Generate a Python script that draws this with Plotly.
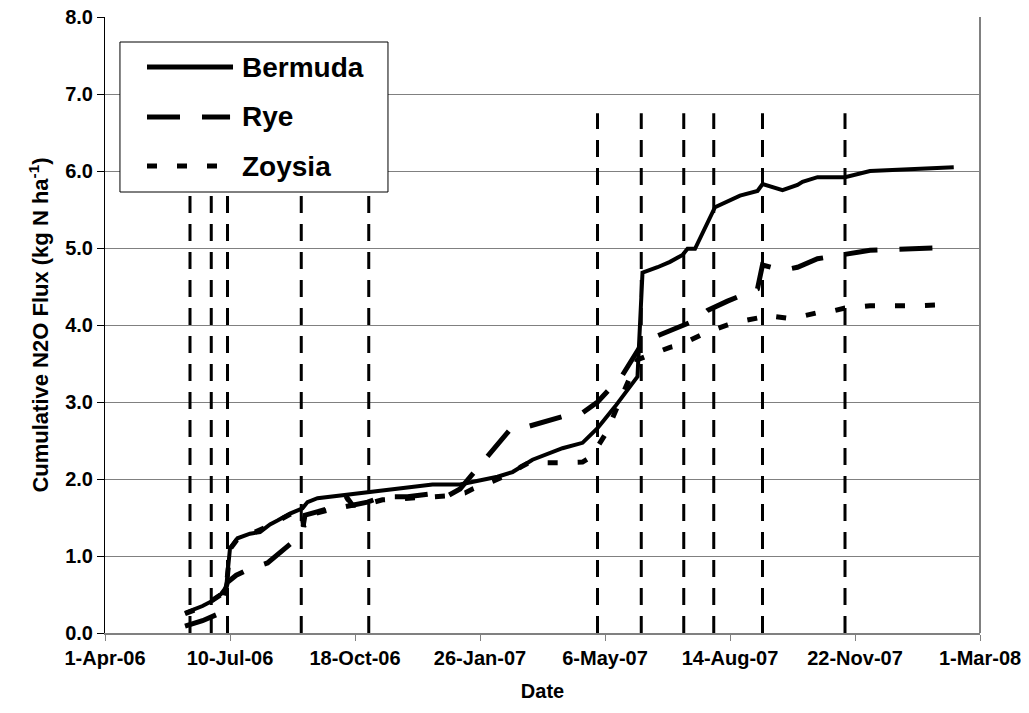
import plotly.graph_objects as go

# cumulative N2O flux (kg N/ha)
bermuda_dates = [
    "2006-06-04", "2006-06-18", "2006-06-25", "2006-07-03", "2006-07-07", "2006-07-10",
    "2006-07-16", "2006-07-26", "2006-08-03", "2006-08-11", "2006-08-17", "2006-08-27",
    "2006-09-06", "2006-09-10", "2006-09-18", "2006-10-04", "2006-10-24", "2006-11-17",
    "2006-12-19", "2007-01-10", "2007-02-09", "2007-02-21", "2007-03-09", "2007-04-02",
    "2007-04-18", "2007-04-30", "2007-05-14", "2007-06-01", "2007-06-05", "2007-06-17",
    "2007-06-27", "2007-07-07", "2007-07-11", "2007-07-17", "2007-08-02", "2007-08-22",
    "2007-09-05", "2007-09-09", "2007-09-25", "2007-10-07", "2007-10-11", "2007-10-23",
    "2007-11-14", "2007-12-04", "2008-02-09",
]
bermuda = [
    0.26, 0.35, 0.41, 0.51, 0.60, 1.10,
    1.23, 1.29, 1.31, 1.41, 1.46, 1.55,
    1.62, 1.70, 1.75, 1.78, 1.82, 1.87,
    1.93, 1.93, 2.03, 2.09, 2.25, 2.40,
    2.47, 2.66, 2.94, 3.33, 4.68, 4.75,
    4.82, 4.91, 4.99, 4.99, 5.53, 5.68,
    5.74, 5.83, 5.75, 5.82, 5.86, 5.92,
    5.92, 6.00, 6.05,
]

rye_dates = [
    "2006-06-04", "2006-06-18", "2006-07-01", "2006-07-08", "2006-07-15", "2006-07-24",
    "2006-08-09", "2006-08-21", "2006-08-29", "2006-09-06", "2006-09-08", "2006-09-28",
    "2006-10-12", "2006-10-16", "2006-10-28", "2006-11-09", "2006-11-29", "2006-12-19",
    "2006-12-31", "2007-01-10", "2007-01-30", "2007-02-19", "2007-03-05", "2007-03-21",
    "2007-04-04", "2007-04-18", "2007-04-30", "2007-05-20", "2007-06-05", "2007-06-17",
    "2007-07-03", "2007-07-17", "2007-07-27", "2007-08-12", "2007-09-05", "2007-09-09",
    "2007-09-25", "2007-10-07", "2007-10-23", "2007-11-14", "2007-12-04", "2008-02-09",
]
rye = [
    0.09, 0.16, 0.25, 0.66, 0.75, 0.82,
    0.91, 1.08, 1.18, 1.34, 1.53, 1.62,
    1.75, 1.66, 1.70, 1.77, 1.77, 1.81,
    1.78, 1.87, 2.26, 2.64, 2.68, 2.75,
    2.82, 2.86, 3.00, 3.35, 3.77, 3.86,
    3.96, 4.06, 4.19, 4.31, 4.47, 4.78,
    4.71, 4.75, 4.86, 4.91, 4.97, 5.01,
]

zoysia_dates = [
    "2006-06-04", "2006-06-18", "2006-07-03", "2006-07-07", "2006-07-10", "2006-07-16",
    "2006-07-26", "2006-08-11", "2006-08-27", "2006-09-05", "2006-09-07", "2006-09-10",
    "2006-09-28", "2006-10-16", "2006-10-24", "2006-11-09", "2006-11-30", "2006-12-23",
    "2006-12-31", "2007-01-14", "2007-01-20", "2007-02-05", "2007-02-21", "2007-02-28",
    "2007-03-06", "2007-03-30", "2007-04-18", "2007-04-25", "2007-05-07", "2007-06-01",
    "2007-06-11", "2007-06-27", "2007-07-05", "2007-07-21", "2007-07-27", "2007-08-12",
    "2007-08-20", "2007-09-05", "2007-09-09", "2007-09-29", "2007-10-07", "2007-10-23",
    "2007-11-01", "2007-11-14", "2007-11-22", "2007-12-04", "2008-01-10", "2008-02-09",
]
zoysia = [
    0.25, 0.34, 0.50, 0.58, 1.09, 1.22,
    1.28, 1.40, 1.54, 1.60, 1.38, 1.53,
    1.60, 1.66, 1.66, 1.73, 1.75, 1.78,
    1.78, 1.82, 1.87, 1.97, 2.08, 2.16,
    2.21, 2.21, 2.22, 2.29, 2.60, 3.55,
    3.61, 3.71, 3.74, 3.86, 3.91, 4.00,
    4.04, 4.09, 4.13, 4.09, 4.10, 4.16,
    4.17, 4.22, 4.23, 4.25, 4.25, 4.27,
]

# fertilizer / event dates shown as dashed verticals
event_dates = [
    "2006-06-08", "2006-06-25", "2006-07-08", "2006-09-05", "2006-10-29",
    "2007-04-30", "2007-06-04", "2007-07-08", "2007-08-01", "2007-09-09", "2007-11-14",
]
event_top = 6.75

tick_dates = ["2006-04-01", "2006-07-10", "2006-10-18", "2007-01-26",
              "2007-05-06", "2007-08-14", "2007-11-22", "2008-03-01"]
tick_text = ["1-Apr-06", "10-Jul-06", "18-Oct-06", "26-Jan-07",
             "6-May-07", "14-Aug-07", "22-Nov-07", "1-Mar-08"]

series = [
    ("Bermuda", bermuda_dates, bermuda, "solid", 4),
    ("Rye", rye_dates, rye, "33px,22px", 5),
    ("Zoysia", zoysia_dates, zoysia, "10px,20px", 5),
]

FONT = "Liberation Sans, Arial, sans-serif"

fig = go.Figure()

for d in event_dates:
    fig.add_trace(go.Scatter(
        x=[d, d], y=[0, event_top], mode="lines",
        line={"color": "black", "width": 3, "dash": "17px,11px"},
        showlegend=False, hoverinfo="skip",
    ))

for name, xs, ys, dash, w in series:
    fig.add_trace(go.Scatter(
        x=xs, y=ys, name=name, mode="lines",
        line={"color": "black", "width": w, "dash": dash},
        showlegend=False,
    ))

# hand-drawn legend box so the sample lines can be long like the original
fig.add_shape(type="rect", xref="paper", yref="paper",
              x0=0.0171, x1=0.3234, y0=0.7159, y1=0.9594,
              line={"color": "black", "width": 1}, fillcolor="white", layer="above")
leg_y = [0.9188, 0.8377, 0.7581]
leg_x1 = [0.1463, 0.1429, 0.1280]
for (name, _, _, dash, w), y, x1 in zip(series, leg_y, leg_x1):
    fig.add_shape(type="line", xref="paper", yref="paper",
                  x0=0.048, x1=x1, y0=y, y1=y,
                  line={"color": "black", "width": 5, "dash": dash})
    fig.add_annotation(xref="paper", yref="paper", x=0.1543, y=y, text="<b>%s</b>" % name,
                       showarrow=False, xanchor="left", yanchor="middle",
                       font={"family": FONT, "size": 28, "color": "black"})

# right border of the plot frame is grey
fig.add_shape(type="line", xref="paper", yref="paper", x0=1, x1=1, y0=0, y1=1,
              line={"color": "#808080", "width": 2})

# page body adds 8px around the figure
fig.update_layout(
    width=1021, height=705,
    margin={"l": 97, "r": 49, "t": 9, "b": 80},
    plot_bgcolor="white",
    paper_bgcolor="white",
    font={"family": FONT, "color": "black", "size": 20},
    showlegend=False,
)
fig.update_xaxes(
    type="date",
    range=["2006-04-01", "2008-03-01"],
    tickvals=tick_dates, ticktext=["<b>%s</b>" % t for t in tick_text],
    tickfont={"size": 20, "family": FONT},
    ticklabeloverflow="allow", automargin=False,
    title={"text": "<b>Date</b>", "font": {"size": 20}, "standoff": 16},
    showgrid=False, zeroline=False,
    showline=True, linecolor="#808080", linewidth=2,
    ticks="outside", ticklen=6, tickcolor="#808080",
)
fig.update_yaxes(
    range=[0, 8], dtick=1, tickformat=".1f",
    tickfont={"size": 20, "family": FONT},
    tickprefix="<b>", ticksuffix="</b>",
    ticklabeloverflow="allow", automargin=False,
    title={"text": "<b>Cumulative N2O Flux (kg N ha<sup>-1</sup>)</b>", "font": {"size": 22}, "standoff": 10},
    showgrid=True, gridcolor="#808080", gridwidth=1, zeroline=False,
    showline=True, linecolor="black", linewidth=1,
    ticks="outside", ticklen=7, tickcolor="black",
)

fig.write_html("out.html")
